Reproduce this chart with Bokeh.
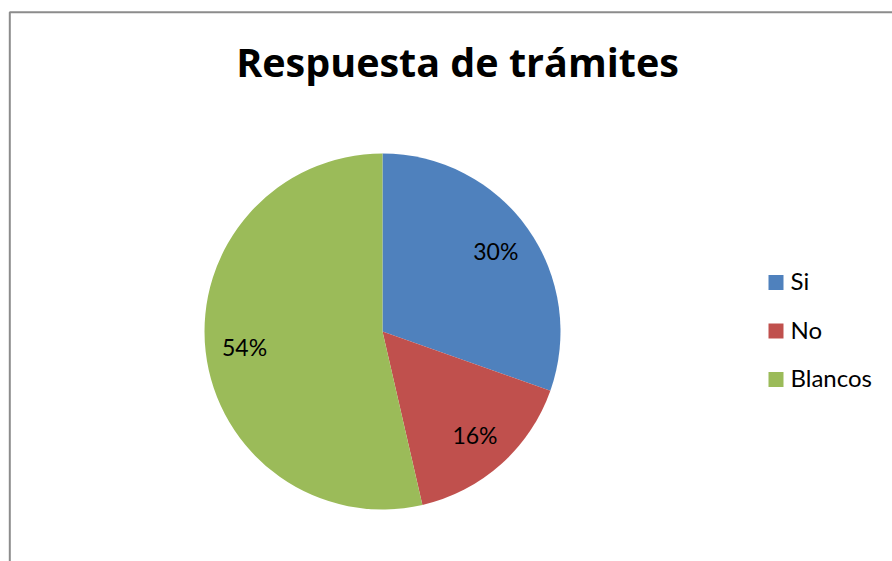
import math
from bokeh.plotting import figure
from bokeh.models import Range1d, ColumnDataSource
from bokeh.core.properties import value
from bokeh.embed import file_html
from bokeh.resources import INLINE

# Data
title_text = "Respuesta de trámites"
categories = ["Si", "No", "Blancos"]
shares = [30.4, 16.0, 53.6]
colors = ["#4F81BD", "#C0504D", "#9BBB59"]

W, H = 892, 561
FONT = "Lato"

p = figure(width=W, height=H, output_backend="svg", toolbar_location=None,
           x_range=Range1d(0, W), y_range=Range1d(0, H), min_border=0)
p.axis.visible = False
p.grid.visible = False
p.outline_line_color = None
p.background_fill_color = "white"
p.border_fill_color = "white"

# chart-area border (extends beyond the visible window on right/bottom)
p.line(x=[9.3, 9.3, W], y=[0, 549.2, 549.2], line_color="#8C8C8C", line_width=2)

# pie
cx, cy, R = 382, 230, 178
total = float(sum(shares))
starts, ends, mids = [], [], []
cum = 0.0
for s in shares:
    f0 = cum / total
    cum += s
    f1 = cum / total
    starts.append(math.pi / 2 - 2 * math.pi * f0)
    ends.append(math.pi / 2 - 2 * math.pi * f1)
    mids.append(math.pi / 2 - 2 * math.pi * (f0 + f1) / 2)

src = ColumnDataSource(dict(cat=categories, start=starts, end=ends, color=colors,
                            lx=[cx + 0.78 * R * math.cos(a) for a in mids],
                            ly=[cy + 0.78 * R * math.sin(a) for a in mids],
                            lab=["%d%%" % round(100 * s / total) for s in shares]))
p.wedge(x=cx, y=cy, radius=R, start_angle="start", end_angle="end",
        direction="clock", fill_color="color", line_color=None, source=src)
p.text(x="lx", y="ly", text="lab", source=src, text_align="center",
       text_baseline="middle", text_font=value(FONT), text_font_size="23px",
       text_color="#000000")

# title
p.text(x=[457], y=[500], text=[title_text], text_align="center",
       text_baseline="alphabetic", text_font=value("Open Sans"), text_font_style="bold",
       text_font_size="39.5px", text_color="#000000")

# legend
lx0, ly0, step = 775.5, 279, 48.5
leg = ColumnDataSource(dict(
    x=[lx0] * len(categories),
    y=[ly0 - i * step for i in range(len(categories))],
    tx=[790] * len(categories),
    ty=[ly0 - i * step + 2 for i in range(len(categories))],
    cat=categories, color=colors))
p.rect(x="x", y="y", width=15, height=15, fill_color="color", line_color=None, source=leg)
p.text(x="tx", y="ty", text="cat", source=leg, text_align="left",
       text_baseline="alphabetic", text_font=value(FONT), text_font_size="24px",
       text_color="#000000")

open("out.html", "w").write(file_html(p, INLINE))
